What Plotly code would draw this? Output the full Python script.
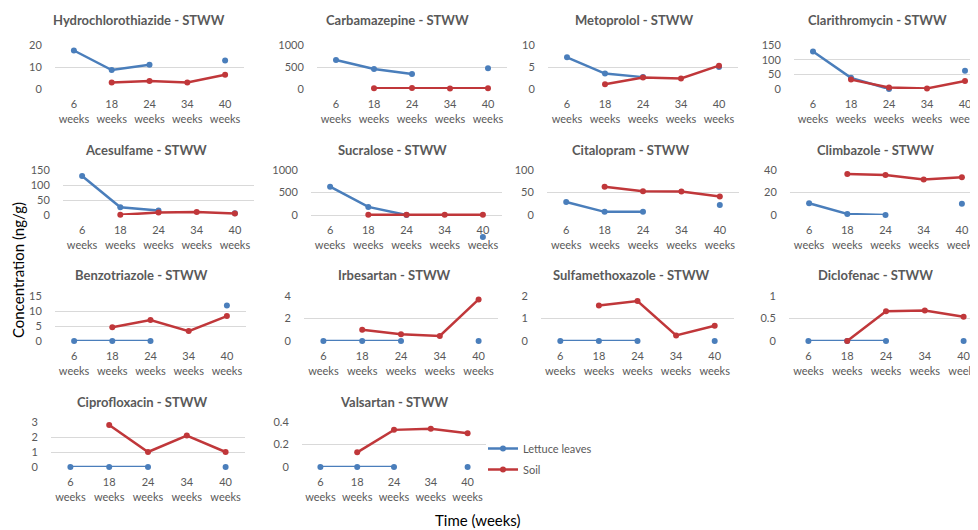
import plotly.graph_objects as go

# The page body adds an 8 px margin, so the figure is drawn 8 px smaller and
# every reference pixel position is shifted by OFF.
OFF = 8
W, H = 978 - OFF, 530 - OFF

categories = ["6<br>weeks", "18<br>weeks", "24<br>weeks", "34<br>weeks", "40<br>weeks"]

titles = [
    "Hydrochlorothiazide - STWW", "Carbamazepine - STWW", "Metoprolol - STWW", "Clarithromycin - STWW",
    "Acesulfame - STWW", "Sucralose - STWW", "Citalopram - STWW", "Climbazole - STWW",
    "Benzotriazole - STWW", "Irbesartan - STWW", "Sulfamethoxazole - STWW", "Diclofenac - STWW",
    "Ciprofloxacin - STWW", "Valsartan - STWW",
]

# Lettuce leaves (ng/g); None = no sample at 34 weeks
hydrochlorothiazide_lettuce = [17.5, 8.6, 11.0, None, 13.0]
carbamazepine_lettuce = [660, 455, 340, None, 470]
metoprolol_lettuce = [7.2, 3.5, 2.7, None, 5.0]
clarithromycin_lettuce = [128, 38, 0, None, 62]
acesulfame_lettuce = [130, 26, 15, None, 6]
sucralose_lettuce = [630, 180, 0, None, -490]
citalopram_lettuce = [29, 7, 7, None, 22]
climbazole_lettuce = [10.5, 1.0, 0.0, None, 10.0]
benzotriazole_lettuce = [0, 0, 0, None, 11.8]
irbesartan_lettuce = [0, 0, 0, None, 0]
sulfamethoxazole_lettuce = [0, 0, 0, None, 0]
diclofenac_lettuce = [0, 0, 0, None, 0]
ciprofloxacin_lettuce = [0, 0, 0, None, 0]
valsartan_lettuce = [0, 0, 0, None, 0]

# Soil (ng/g); None = no sample at 6 weeks
hydrochlorothiazide_soil = [None, 3.0, 3.6, 3.0, 6.5]
carbamazepine_soil = [None, 15, 20, 10, 15]
metoprolol_soil = [None, 1.1, 2.6, 2.4, 5.3]
clarithromycin_soil = [None, 32, 5, 2, 27]
acesulfame_soil = [None, 1, 8, 10, 5]
sucralose_soil = [None, 3, 3, 3, 3]
citalopram_soil = [None, 63, 53, 52, 41]
climbazole_soil = [None, 36.5, 35.5, 31.5, 33.5]
benzotriazole_soil = [None, 4.6, 7.0, 3.3, 8.3]
irbesartan_soil = [None, 1.0, 0.6, 0.45, 3.7]
sulfamethoxazole_soil = [None, 1.58, 1.78, 0.25, 0.68]
diclofenac_soil = [None, 0.0, 0.66, 0.68, 0.54]
ciprofloxacin_soil = [None, 2.8, 1.0, 2.1, 1.0]
valsartan_soil = [None, 0.13, 0.33, 0.34, 0.30]

lettuce = [
    hydrochlorothiazide_lettuce, carbamazepine_lettuce, metoprolol_lettuce, clarithromycin_lettuce,
    acesulfame_lettuce, sucralose_lettuce, citalopram_lettuce, climbazole_lettuce,
    benzotriazole_lettuce, irbesartan_lettuce, sulfamethoxazole_lettuce, diclofenac_lettuce,
    ciprofloxacin_lettuce, valsartan_lettuce,
]
soil = [
    hydrochlorothiazide_soil, carbamazepine_soil, metoprolol_soil, clarithromycin_soil,
    acesulfame_soil, sucralose_soil, citalopram_soil, climbazole_soil,
    benzotriazole_soil, irbesartan_soil, sulfamethoxazole_soil, diclofenac_soil,
    ciprofloxacin_soil, valsartan_soil,
]

y_max = [20, 1000, 10, 150, 150, 1000, 100, 40, 15, 4, 2, 1, 3, 0.4]
y_step = [10, 500, 5, 50, 50, 500, 50, 20, 5, 2, 1, 0.5, 1, 0.2]

# ---- layout geometry (reference pixels) ----
x_px = [(55, 244), (317, 507), (548, 738), (794, 984),
        (63, 254), (311, 502), (547, 739), (790, 981),
        (55, 246), (304, 498), (541, 734), (789, 983),
        (51, 245), (302, 486)]
row_px = [(45, 89), (170, 215), (296, 341), (422, 467)]
title_x = [139, 397, 634, 877, 146, 392, 630, 875, 141, 394, 631, 875, 142, 394]
title_y = [20, 150, 275, 402]


def px_x(p):
    return (p - OFF) / W


def px_y(p):
    return 1 - (p - OFF) / H


BLUE = "#4A7EBB"
RED = "#C0373A"
GRAY = "#595959"
FONT = "Lato"
XMAX = 978

fig = go.Figure()
annotations = []
for i in range(14):
    r = i // 4
    x0, x1 = x_px[i]
    y0, y1 = row_px[r]
    n = i + 1
    xa = "xaxis" if n == 1 else f"xaxis{n}"
    ya = "yaxis" if n == 1 else f"yaxis{n}"
    xr = 4.5
    x1c = x1
    if x1 > XMAX:
        band = (x1 - x0) / 5.0
        xr = 4.5 - (x1 - XMAX) / band
        x1c = XMAX
    # extend the panel below zero only if a value lies below zero
    vals = [v for v in lettuce[i] + soil[i] if v is not None]
    vmin = min(vals)
    ppu = (y1 - y0) / y_max[i]
    ylo = 0.0
    y1e = y1
    if vmin < 0:
        ylo = vmin * 1.06
        y1e = y1 + (-ylo) * ppu
    ticks = []
    k = 0
    while k * y_step[i] <= y_max[i] + 1e-9:
        ticks.append(round(k * y_step[i], 6))
        k += 1
    fig.add_trace(go.Scatter(
        x=categories, y=lettuce[i], xaxis=f"x{n}", yaxis=f"y{n}",
        mode="lines+markers", name="Lettuce leaves", legendgroup="l",
        showlegend=(i == 0), connectgaps=False, cliponaxis=False,
        line=dict(color=BLUE, width=2.5), marker=dict(color=BLUE, size=6)))
    fig.add_trace(go.Scatter(
        x=categories, y=soil[i], xaxis=f"x{n}", yaxis=f"y{n}",
        mode="lines+markers", name="Soil", legendgroup="s",
        showlegend=(i == 0), connectgaps=False, cliponaxis=False,
        line=dict(color=RED, width=2.5), marker=dict(color=RED, size=6)))
    xdict = dict(
        domain=[px_x(x0), px_x(x1c)], type="category",
        categoryorder="array", categoryarray=categories, range=[-0.5, xr],
        showgrid=False, showline=False, zeroline=False, ticks="outside",
        ticklen=5, tickcolor="rgba(0,0,0,0)", automargin=False,
        tickfont=dict(family=FONT, size=11, color=GRAY), fixedrange=True)
    if y1e != y1:
        xdict.update(anchor="free", position=px_y(y1))
    else:
        xdict.update(anchor=f"y{n}")
    fig.layout[xa] = xdict
    fig.layout[ya] = dict(
        domain=[px_y(y1e), px_y(y0)], anchor=f"x{n}", range=[ylo, y_max[i]],
        tickmode="array", tickvals=ticks, showgrid=True, gridcolor="#D9D9D9", gridwidth=1,
        showline=False, zeroline=False, ticks="outside", ticklen=10,
        tickcolor="rgba(0,0,0,0)", automargin=False,
        tickfont=dict(family=FONT, size=11, color=GRAY), fixedrange=True)
    annotations.append(dict(
        text=titles[i], x=px_x(title_x[i]), y=px_y(title_y[r]), xref="paper", yref="paper",
        xanchor="center", yanchor="middle", showarrow=False,
        font=dict(family=FONT, size=13, color=GRAY, weight="bold")))

annotations.append(dict(
    text="Concentration (ng/g)", x=px_x(18), y=px_y(270), xref="paper", yref="paper",
    xanchor="center", yanchor="middle", textangle=-90, showarrow=False,
    font=dict(family=FONT, size=15, color="#000000")))
annotations.append(dict(
    text="Time (weeks)", x=px_x(478), y=px_y(520), xref="paper", yref="paper",
    xanchor="center", yanchor="middle", showarrow=False,
    font=dict(family=FONT, size=15, color="#000000")))

fig.update_layout(
    width=W, height=H, margin=dict(l=0, r=0, t=0, b=0, autoexpand=False),
    paper_bgcolor="white", plot_bgcolor="white",
    annotations=annotations,
    legend=dict(x=px_x(483), y=px_y(434), xanchor="left", yanchor="top",
                font=dict(family=FONT, size=11, color=GRAY),
                itemwidth=30, tracegroupgap=2, bgcolor="rgba(0,0,0,0)"),
)

fig.write_html("out.html")
